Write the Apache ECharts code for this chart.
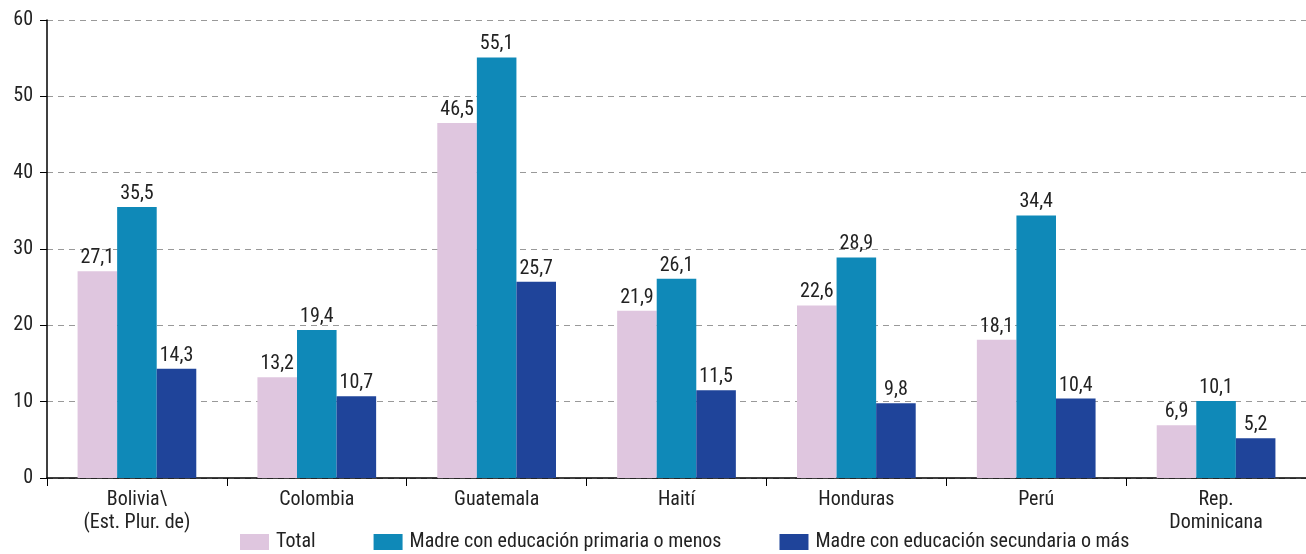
<!DOCTYPE html>
<html><head><meta charset="utf-8">
<script src="https://cdn.jsdelivr.net/npm/echarts@6/dist/echarts.min.js"></script>
<style>html,body{margin:0;padding:0;background:#fff}#c{width:1306px;height:554px}</style>
</head><body><div id="c"></div>
<script>
const categories = ['Bolivia\\\n(Est. Plur. de)', 'Colombia', 'Guatemala', 'Haití', 'Honduras', 'Perú', 'Rep.\nDominicana'];
const seriesNames = ['Total', 'Madre con educación primaria o menos', 'Madre con educación secundaria o más'];
const total = [27.1, 13.2, 46.5, 21.9, 22.6, 18.1, 6.9];
const primaria = [35.5, 19.4, 55.1, 26.1, 28.9, 34.4, 10.1];
const secundaria = [14.3, 10.7, 25.7, 11.5, 9.8, 10.4, 5.2];
const colors = ['#dfc6df', '#0f89b8', '#1f449a'];
const FONT = '"Roboto Condensed", "DejaVu Sans Condensed", sans-serif';

const chart = echarts.init(document.getElementById('c'));
const mk = (name, data, color) => ({
  name, type: 'bar', data, barGap: '0%', barCategoryGap: '34%',
  itemStyle: { color },
  label: { show: true, position: 'top', distance: 3, color: '#222', fontFamily: FONT, fontSize: 20,
    formatter: p => p.value.toFixed(1).replace('.', ',') }
});
chart.setOption({
  animation: false,
  color: colors,
  textStyle: { fontFamily: FONT },
  grid: { left: 47, width: 1271, top: 20, height: 458, containLabel: false },
  legend: {
    data: seriesNames, left: 235, bottom: -3, itemWidth: 29, itemHeight: 16, itemGap: 58,
    icon: 'rect', textStyle: { fontFamily: FONT, fontSize: 20, color: '#222', padding: [0, 0, 0, 2] }
  },
  xAxis: {
    type: 'category', data: categories,
    axisLine: { lineStyle: { color: '#000', width: 1.5 } },
    axisTick: { show: true, length: 8, lineStyle: { color: '#000' } },
    axisLabel: { color: '#222', fontFamily: FONT, fontSize: 20, margin: 10, lineHeight: 23 }
  },
  yAxis: {
    type: 'value', min: 0, max: 60, interval: 10,
    axisLine: { show: true, lineStyle: { color: '#000', width: 1.5 } },
    axisTick: { show: true, length: 7, lineStyle: { color: '#000' } },
    axisLabel: { color: '#222', fontFamily: FONT, fontSize: 20, margin: 14 },
    splitLine: { show: true, lineStyle: { color: '#999', type: [6, 5], width: 1 } }
  },
  series: [mk(seriesNames[0], total, colors[0]), mk(seriesNames[1], primaria, colors[1]), mk(seriesNames[2], secundaria, colors[2])]
});
</script></body></html>
